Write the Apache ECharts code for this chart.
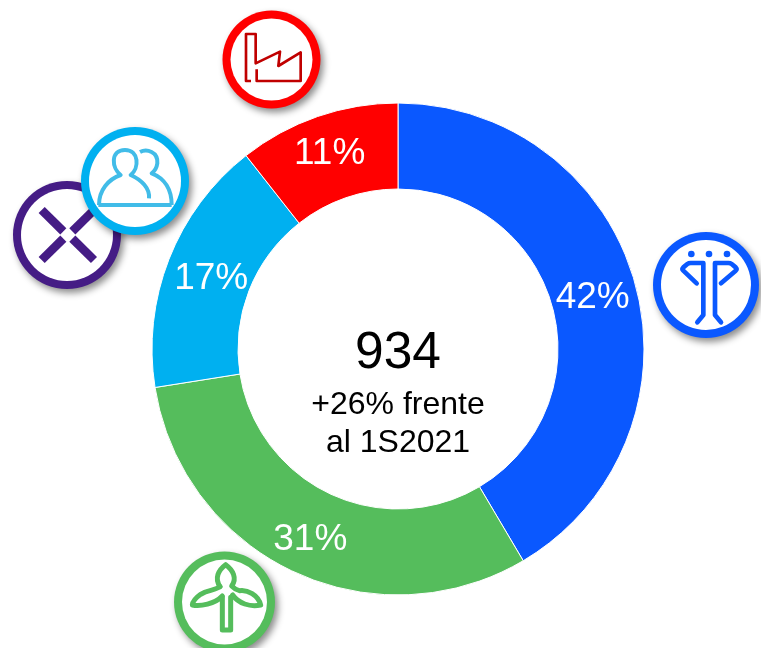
<!DOCTYPE html>
<html><head><meta charset="utf-8">
<style>html,body{margin:0;padding:0;background:#fff}#c{width:761px;height:648px}</style>
<script src="https://cdn.jsdelivr.net/npm/echarts@6/dist/echarts.min.js"></script>
</head><body><div id="c"></div>
<script>
const categories = ['Redes', 'Renovables', 'Clientes', 'Generación'];
const values = [41.5, 31, 16.9, 10.6];
const shareLabels = ['42%', '31%', '17%', '11%'];
const colors = ['#0a58ff', '#55bd5c', '#00b0f0', '#ff0000'];
const centerTitle = '934';
const centerLines = ['+26% frente', 'al 1S2021'];
const labelNudges = [[-4, 3], [0, 4], [5, 5], [-1, -1]];
const FONT = '"Liberation Sans", Arial, sans-serif';

let shapeCount = 0;
function pathEl(d, style) {
  const name = 'iconPath' + (shapeCount++);
  echarts.graphic.registerShape(name, echarts.graphic.extendPath(d, {}));
  return { type: name, style };
}
function badge(cx, cy, r, color, z) {
  return { type: 'group', z: z, children: [
    { type: 'circle', z: z, shape: { cx, cy, r },
      style: { fill: color, shadowBlur: 7, shadowColor: 'rgba(0,0,0,0.45)', shadowOffsetX: 3, shadowOffsetY: 4 } },
    { type: 'circle', z: z, shape: { cx, cy, r: r - 8 }, style: { fill: '#fff' } }
  ] };
}
function icon(ox, oy, color, lw, paths, z, cap, dots) {
  const children = paths.map(d => Object.assign(pathEl(d, { fill: 'none', stroke: color, lineWidth: lw, lineCap: cap || 'butt', lineJoin: 'round' }), { z }));
  (dots || []).forEach(p => children.push({ type: 'circle', z, shape: { cx: p[0], cy: p[1], r: 10 }, style: { fill: color } }));
  return { type: 'group', x: ox, y: oy, scaleX: 1 / 3, scaleY: 1 / 3, z: z, children };
}
function label(text, x, y, size) {
  return { type: 'text', z: 5, x, y, style: { text, fill: '#000', font: size + 'px ' + FONT, align: 'center', verticalAlign: 'middle' } };
}

const chart = echarts.init(document.getElementById('c'), null, { renderer: 'canvas' });
chart.setOption({
  animation: false,
  backgroundColor: '#fff',
  series: [{
    type: 'pie',
    center: [398, 349],
    radius: [160, 246],
    startAngle: 90,
    avoidLabelOverlap: false,
    silent: true,
    itemStyle: { borderColor: '#fff', borderWidth: 1 },
    label: { show: true, position: 'inside', color: '#fff', fontFamily: FONT, fontSize: 37,
      formatter: p => shareLabels[p.dataIndex] },
    labelLine: { show: false },
    data: categories.map((name, i) => ({ name, value: values[i], itemStyle: { color: colors[i] },
      label: { offset: labelNudges[i] } }))
  }],
  graphic: { elements: [
    label(centerTitle, 398, 354, 51.5),
    label(centerLines[0], 398, 405, 32),
    label(centerLines[1], 398, 443, 32),

    badge(67, 235, 54, '#451c85', 10),
    icon(0, 0, '#451c85', 26, ['M125,630 L190,694', 'M125,780 L190,716', 'M282,780 L217,716', 'M282,630 L217,694'], 11),

    badge(135, 181, 54, '#00b0f0', 12),
    icon(0, 0, '#41bce8', 12, [
      'M295,615 H515',
      'M297,615 C297,570 325,538 362,525 C335,505 330,450 375,450 C418,450 418,505 392,525 C425,540 450,565 447,595',
      'M420,456 C440,445 475,455 472,490 C470,505 462,515 455,520 C495,535 515,570 515,615'
    ], 13),

    badge(271.5, 59.5, 49, '#ff0000', 10),
    icon(0, 0, '#c00000', 8, [
      'M753,243 H738 V102 H767 V190 L840,155 L835,198 L902,157 V243 H770 V208'
    ], 11),

    badge(706, 285, 53, '#0a58ff', 10),
    icon(640, 220, '#0a58ff', 14, [
      'M170,190 L130,152 Q125,147 130,142 L142,132 Q146,129 152,129 H190 V285 L172,307',
      'M243,190 L287,152 Q292,147 287,142 L275,132 Q271,129 265,129 H225 V285 L243,307'
    ], 11, 'round', [[154,102],[207,102],[261,102]]),

    badge(224.5, 602, 50.5, '#55bd5c', 10),
    icon(160, 540, '#55bd5c', 15, [
      'M180,140 C163,115 175,90 197,74 C219,90 232,115 215,138 C222,145 228,150 238,152 C262,148 295,165 302,195 C270,202 235,190 218,165',
      'M180,140 C165,152 145,148 122,163 C108,173 98,185 97,195 C120,200 165,192 187,168',
      'M187,172 V270 H212 V172'
    ], 11, 'round')
  ] }
});
</script></body></html>
